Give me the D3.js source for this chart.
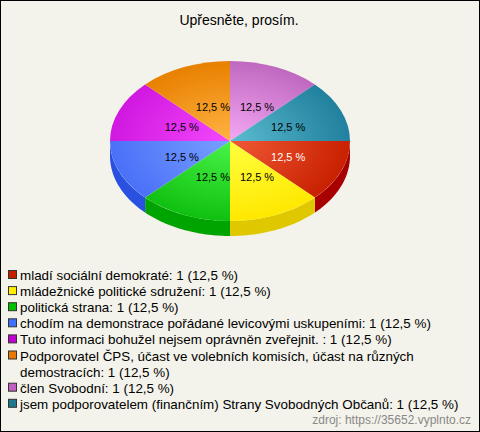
<!DOCTYPE html>
<html>
<head>
<meta charset="utf-8">
<script src="https://cdn.jsdelivr.net/npm/d3@7"></script>
<style>
  html, body { margin: 0; padding: 0; background: #fff; }
  svg { display: block; }
  text { font-family: "Liberation Sans", Arial, sans-serif; }
</style>
</head>
<body>
<svg id="chart" width="480" height="432"></svg>
<script>
const title = "Upřesněte, prosím.";
const source = "zdroj: https://35652.vyplnto.cz";
const categories = [
  "mladí sociální demokraté",
  "mládežnické politické sdružení",
  "politická strana",
  "chodím na demonstrace pořádané levicovými uskupeními",
  "Tuto informaci bohužel nejsem oprávněn zveřejnit. ",
  "Podporovatel ČPS, účast ve volebních komisích, účast na různých demostracích",
  "člen Svobodní",
  "jsem podporovatelem (finančním) Strany Svobodných Občanů"
];
const counts = [1, 1, 1, 1, 1, 1, 1, 1];
const percentLabels = ["12,5 %", "12,5 %", "12,5 %", "12,5 %", "12,5 %", "12,5 %", "12,5 %", "12,5 %"];
const legendColors = ["#c42000", "#ffee00", "#00c000", "#4070ff", "#c000d0", "#e87800", "#c060c0", "#207890"];
const topLight = ["#f05a36", "#ffff40", "#48f448", "#78a0ff", "#f448fc", "#ffb444", "#f4a8f4", "#5cbcd0"];
const topDark  = ["#c82000", "#ffe800", "#10c010", "#4a70f8", "#d018e0", "#e88000", "#c068c0", "#20809e"];
const sideColors = ["#a80000", "#e0c800", "#00a400", "#2a50e0", "#a000b0", "#c06000", "#a050a0", "#106078"];
const labelColors = ["#ffffff", "#000000", "#000000", "#000000", "#000000", "#000000", "#000000", "#000000"];

const svg = d3.select("#chart");
const W = 480, H = 432;

svg.append("rect").attr("x", 0.5).attr("y", 0.5).attr("width", W - 1).attr("height", H - 1)
  .attr("fill", "#f4f3eb").attr("stroke", "#000").attr("stroke-width", 1);

svg.append("text").attr("x", 239).attr("y", 25).attr("text-anchor", "middle")
  .attr("font-size", 14).attr("fill", "#000").text(title);

const cx = 230, cy = 141, rx = 120, ry = 80, depth = 15;
const pie = d3.pie().sort(null).value(d => d).startAngle(Math.PI / 2).endAngle(Math.PI / 2 + 2 * Math.PI);
const arcs = pie(counts);

const defs = svg.append("defs");
arcs.forEach((a, i) => {
  const g = defs.append("radialGradient").attr("id", "g" + i)
    .attr("gradientUnits", "userSpaceOnUse").attr("cx", 0).attr("cy", 0).attr("r", rx);
  g.append("stop").attr("offset", "0%").attr("stop-color", topLight[i]);
  g.append("stop").attr("offset", "100%").attr("stop-color", topDark[i]);
});

const px = a => Math.sin(a), py = a => -Math.cos(a);
const sideLayer = svg.append("g");
arcs.forEach((a, i) => {
  const a0 = Math.max(a.startAngle, Math.PI / 2), a1 = Math.min(a.endAngle, 3 * Math.PI / 2);
  if (a1 <= a0) return;
  const p = d3.path();
  p.moveTo(cx + rx * px(a0), cy + ry * py(a0));
  const n = 40;
  for (let k = 1; k <= n; k++) {
    const t = a0 + (a1 - a0) * k / n;
    p.lineTo(cx + rx * px(t), cy + ry * py(t));
  }
  for (let k = n; k >= 0; k--) {
    const t = a0 + (a1 - a0) * k / n;
    p.lineTo(cx + rx * px(t), cy + ry * py(t) + depth);
  }
  p.closePath();
  sideLayer.append("path").attr("d", p.toString()).attr("fill", sideColors[i]);
});

const arcGen = d3.arc().innerRadius(0).outerRadius(rx);
const topLayer = svg.append("g").attr("transform", `translate(${cx},${cy}) scale(1,${ry / rx})`);
topLayer.selectAll("path").data(arcs).join("path")
  .attr("d", arcGen)
  .attr("fill", (d, i) => `url(#g${i})`);

svg.append("g").selectAll("text").data(arcs).join("text")
  .attr("x", d => cx + 5 + 0.48 * rx * px((d.startAngle + d.endAngle) / 2))
  .attr("y", d => cy + 5 + 0.48 * ry * py((d.startAngle + d.endAngle) / 2))
  .attr("text-anchor", "middle")
  .attr("font-size", 11)
  .attr("fill", (d, i) => labelColors[i])
  .text((d, i) => percentLabels[i]);

const legend = svg.append("g");
const lineH = 16.1, maxW = 455;
let rowY = 275;
categories.forEach((c, i) => {
  const label = `${c}: ${counts[i]} (${percentLabels[i]})`;
  legend.append("rect").attr("x", 8.5).attr("y", rowY - 4.5).attr("width", 8).attr("height", 8)
    .attr("fill", legendColors[i]).attr("stroke", "#333").attr("stroke-width", 1);
  const t = legend.append("text").attr("font-size", 13.4).attr("fill", "#000");
  const words = label.split(" ");
  let line = [];
  let tspan = t.append("tspan").attr("x", 20).attr("y", rowY + 5);
  let lines = 1;
  words.forEach(w => {
    line.push(w);
    tspan.text(line.join(" "));
    if (tspan.node().getComputedTextLength() > maxW && line.length > 1) {
      line.pop();
      tspan.text(line.join(" "));
      line = [w];
      tspan = t.append("tspan").attr("x", 20).attr("y", rowY + 5 + lines * lineH).text(w);
      lines++;
    }
  });
  rowY += lines * lineH;
});

svg.append("text").attr("x", 471).attr("y", 424).attr("text-anchor", "end")
  .attr("font-size", 12).attr("fill", "#888").text(source);
</script>
</body>
</html>
